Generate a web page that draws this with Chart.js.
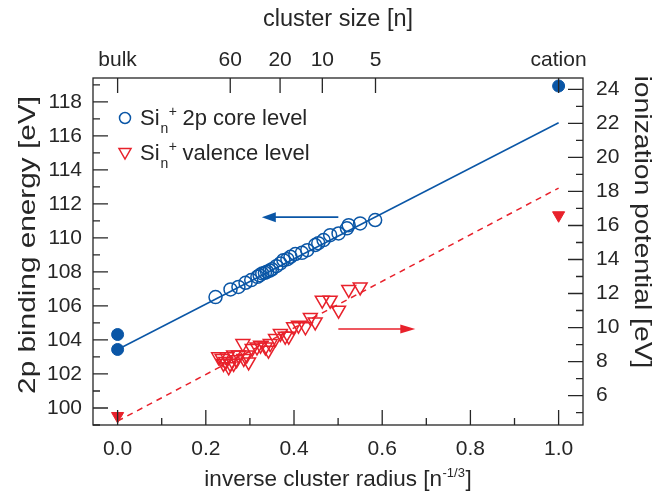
<!DOCTYPE html>
<html><head><meta charset="utf-8">
<script src="https://cdn.jsdelivr.net/npm/chart.js@4.4.0/dist/chart.umd.min.js"></script>
<style>html,body{margin:0;padding:0;background:#fff;}canvas{display:block;}</style>
</head><body>
<canvas id="c" width="658" height="493"></canvas>
<script>
// ---- data ----
const coreX = [0.222,0.256,0.274,0.290,0.303,0.317,0.322,0.328,0.334,0.339,0.345,0.350,0.360,0.369,0.376,0.385,0.392,0.403,0.418,0.430,0.448,0.455,0.467,0.482,0.501,0.520,0.524,0.550,0.584];
const coreY = [106.52,106.97,107.12,107.36,107.52,107.71,107.80,107.91,107.95,108.01,108.08,108.15,108.34,108.50,108.69,108.75,108.89,109.05,109.12,109.28,109.58,109.69,109.87,110.16,110.26,110.56,110.75,110.85,111.05];
const valX = [0.550,0.524,0.482,0.464,0.501,0.448,0.437,0.426,0.410,0.399,0.388,0.380,0.369,0.358,0.346,0.342,0.335,0.324,0.316,0.305,0.297,0.293,0.286,0.284,0.274,0.263,0.263,0.252,0.248,0.240,0.237,0.229,0.245,0.255,0.270];
const valY = [12.39,12.24,11.61,11.61,11.02,10.33,10.59,10.04,10.14,10.04,9.49,9.49,9.65,9.36,9.06,8.67,8.86,8.96,8.86,8.77,7.98,8.38,8.18,9.06,8.38,8.38,7.89,7.69,8.28,7.89,8.18,8.28,8.00,7.90,8.10];
const bulkCoreX = [0, 0];
const bulkCoreY = [104.32, 103.44];
const cationCoreX = [1.0];
const cationCoreY = [118.93];
const bulkValX = [0];
const bulkValY = [4.8];
const cationValX = [1.0];
const cationValY = [16.6];
const coreFitX = [0, 1.0];
const coreFitY = [103.44, 116.77];
const valFitX = [0, 1.0];
const valFitY = [4.5, 18.2];
const blueArrowX = [0.5005, 0.327];
const blueArrowY = [111.22, 111.22];
const redArrowX = [0.5005, 0.675];
const redArrowY = [9.91, 9.91];
const xTicks = [0.0, 0.2, 0.4, 0.6, 0.8, 1.0];
const xMinorTicks = [0.1, 0.3, 0.5, 0.7, 0.9];
const topTickValues = [0, 0.2554, 0.3684, 0.4642, 0.5848, 1.0];
const topTickLabels = ['bulk', '60', '20', '10', '5', 'cation'];
const leftTicks = [100,102,104,106,108,110,112,114,116,118];
const leftMinorTicks = [99,101,103,105,107,109,111,113,115,117,119];
const rightTicks = [6,8,10,12,14,16,18,20,22,24];
const rightMinorTicks = [5,7,9,11,13,15,17,19,21,23];

const BLUE = '#0a56a6';
const RED = '#e8212b';
const INK = '#262626';
const FONT = "'Liberation Sans', Arial, Helvetica, sans-serif";

const pts = (xs, ys) => xs.map((x, i) => ({x: x, y: ys[i]}));

const frameTicks = {
  id: 'frameTicks',
  afterDatasetsDraw(chart) {
    const ctx = chart.ctx, a = chart.chartArea, s = chart.scales;
    ctx.save();
    ctx.strokeStyle = INK; ctx.lineWidth = 1.3;
    ctx.strokeRect(a.left, a.top, a.right - a.left, a.bottom - a.top);
    const MAJ = 15, MIN = 7;
    ctx.beginPath();
    xTicks.forEach(v => { const x = s.x.getPixelForValue(v); ctx.moveTo(x, a.bottom); ctx.lineTo(x, a.bottom - MAJ); });
    xMinorTicks.forEach(v => { const x = s.x.getPixelForValue(v); ctx.moveTo(x, a.bottom); ctx.lineTo(x, a.bottom - MIN); });
    topTickValues.forEach(v => { const x = s.x2.getPixelForValue(v); ctx.moveTo(x, a.top); ctx.lineTo(x, a.top + MAJ); });
    leftTicks.forEach(v => { const y = s.y.getPixelForValue(v); ctx.moveTo(a.left, y); ctx.lineTo(a.left + MAJ, y); });
    leftMinorTicks.forEach(v => { const y = s.y.getPixelForValue(v); ctx.moveTo(a.left, y); ctx.lineTo(a.left + MIN, y); });
    rightTicks.forEach(v => { const y = s.y2.getPixelForValue(v); ctx.moveTo(a.right, y); ctx.lineTo(a.right - MAJ, y); });
    rightMinorTicks.forEach(v => { const y = s.y2.getPixelForValue(v); ctx.moveTo(a.right, y); ctx.lineTo(a.right - MIN, y); });
    ctx.stroke();

    // arrows
    function arrow(xs, ys, yScale, color, headLen, headHalf) {
      const x0 = s.x.getPixelForValue(xs[0]), x1 = s.x.getPixelForValue(xs[1]);
      const y0 = yScale.getPixelForValue(ys[0]), y1 = yScale.getPixelForValue(ys[1]);
      const dir = Math.sign(x1 - x0);
      ctx.strokeStyle = color; ctx.fillStyle = color; ctx.lineWidth = 1.6;
      ctx.beginPath(); ctx.moveTo(x0, y0); ctx.lineTo(x1 - dir * headLen * 0.8, y1); ctx.stroke();
      ctx.beginPath(); ctx.moveTo(x1, y1); ctx.lineTo(x1 - dir * headLen, y1 - headHalf); ctx.lineTo(x1 - dir * headLen, y1 + headHalf); ctx.closePath(); ctx.fill();
    }
    arrow(blueArrowX, blueArrowY, s.y, BLUE, 14, 5);
    arrow(redArrowX, redArrowY, s.y2, RED, 15, 4.5);

    // legend
    ctx.textBaseline = 'alphabetic'; ctx.textAlign = 'left';
    function entry(yBase, marker, rest) {
      ctx.fillStyle = INK;
      ctx.font = '22px ' + FONT;
      let x = 140;
      ctx.fillText('Si', x, yBase); x += ctx.measureText('Si').width + 1;
      ctx.font = '14px ' + FONT;
      ctx.fillText('n', x, yBase + 8);
      const nW = ctx.measureText('n').width;
      ctx.fillText('+', x + nW + 0.5, yBase - 9);
      x += nW + ctx.measureText('+').width + 6;
      ctx.font = '22px ' + FONT;
      ctx.fillText(rest, x, yBase);
      marker();
    }
    entry(125, () => { ctx.strokeStyle = BLUE; ctx.lineWidth = 1.5; ctx.beginPath(); ctx.arc(125, 118, 5.5, 0, Math.PI * 2); ctx.stroke(); }, '2p core level');
    entry(160, () => { ctx.strokeStyle = RED; ctx.lineWidth = 1.5; ctx.beginPath(); ctx.moveTo(119, 148.5); ctx.lineTo(131, 148.5); ctx.lineTo(125, 159); ctx.closePath(); ctx.stroke(); }, 'valence level');

    // bottom title with superscript
    ctx.fillStyle = INK;
    ctx.font = '22.5px ' + FONT;
    const t1 = 'inverse cluster radius [n', t3 = ']';
    const w1 = ctx.measureText(t1).width, w3 = ctx.measureText(t3).width;
    ctx.font = '13px ' + FONT;
    const t2 = '-1/3'; const w2 = ctx.measureText(t2).width;
    const total = w1 + w2 + w3 + 1;
    let bx = (a.left + a.right) / 2 - total / 2;
    const by = 486;
    ctx.font = '22.5px ' + FONT; ctx.fillText(t1, bx, by); bx += w1 + 0.5;
    ctx.font = '13px ' + FONT; ctx.fillText(t2, bx, by - 9); bx += w2 + 0.5;
    ctx.font = '22.5px ' + FONT; ctx.fillText(t3, bx, by);

    // vertical titles (stretched along text direction)
    function vtitle(text, cx, cy, rot, size, stretch) {
      ctx.save();
      ctx.translate(cx, cy); ctx.rotate(rot); ctx.scale(stretch, 1);
      ctx.font = size + 'px ' + FONT; ctx.textAlign = 'center'; ctx.textBaseline = 'middle';
      ctx.fillStyle = INK; ctx.fillText(text, 0, 0);
      ctx.restore();
    }
    vtitle('2p binding energy [eV]', 28, 245, -Math.PI / 2, 24, 1.24);
    vtitle('ionization potential [eV]', 642, 222, Math.PI / 2, 24, 1.18);
    ctx.restore();
  }
};

const tickFont = {family: FONT, size: 21};
const titleFont = {family: FONT, size: 23.5};

new Chart(document.getElementById('c'), {
  type: 'scatter',
  data: {
    datasets: [
      {data: pts(bulkCoreX, bulkCoreY), yAxisID: 'y', pointStyle: 'circle', pointRadius: 6, backgroundColor: BLUE, borderColor: BLUE, borderWidth: 1},
      {data: pts(cationCoreX, cationCoreY), yAxisID: 'y', pointStyle: 'circle', pointRadius: 6, backgroundColor: BLUE, borderColor: BLUE, borderWidth: 1},
      {data: pts(bulkValX, bulkValY), yAxisID: 'y2', pointStyle: 'triangle', rotation: 180, pointRadius: 7, backgroundColor: RED, borderColor: RED, borderWidth: 1},
      {data: pts(cationValX, cationValY), yAxisID: 'y2', pointStyle: 'triangle', rotation: 180, pointRadius: 7, backgroundColor: RED, borderColor: RED, borderWidth: 1},
      {data: pts(coreX, coreY), yAxisID: 'y', pointStyle: 'circle', pointRadius: 6.5, backgroundColor: 'rgba(0,0,0,0)', borderColor: BLUE, borderWidth: 1.5},
      {data: pts(valX, valY), yAxisID: 'y2', pointStyle: 'triangle', rotation: 180, pointRadius: 8, backgroundColor: 'rgba(0,0,0,0)', borderColor: RED, borderWidth: 1.5},
      {data: pts(coreFitX, coreFitY), yAxisID: 'y', showLine: true, pointRadius: 0, borderColor: BLUE, borderWidth: 1.5, fill: false},
      {data: pts(valFitX, valFitY), yAxisID: 'y2', showLine: true, pointRadius: 0, borderColor: RED, borderWidth: 1.5, borderDash: [6, 5], fill: false}
    ]
  },
  options: {
    responsive: false, animation: false, devicePixelRatio: 1,
    layout: {padding: 0},
    plugins: {legend: {display: false}, tooltip: {enabled: false}},
    elements: {point: {hoverRadius: 0}},
    scales: {
      x: {
        type: 'linear', position: 'bottom', min: -0.0558, max: 1.0553,
        grid: {display: false, drawTicks: false}, border: {display: false},
        afterBuildTicks: sc => { sc.ticks = xTicks.map(v => ({value: v})); },
        afterFit: sc => { sc.height = 68; },
        ticks: {font: tickFont, color: INK, padding: 12, maxRotation: 0, autoSkip: false, callback: v => Number(v).toFixed(1)}
      },
      x2: {
        type: 'linear', position: 'top', min: -0.0558, max: 1.0553,
        grid: {display: false, drawTicks: false}, border: {display: false},
        afterBuildTicks: sc => { sc.ticks = topTickValues.map(v => ({value: v})); },
        afterFit: sc => { sc.height = 78; },
        ticks: {font: tickFont, color: INK, padding: 5, maxRotation: 0, autoSkip: false, callback: (v, i) => topTickLabels[i]},
        title: {display: true, text: 'cluster size [n]', font: titleFont, color: INK, padding: {top: 5, bottom: 0}}
      },
      y: {
        type: 'linear', position: 'left', min: 99.0, max: 119.4,
        grid: {display: false, drawTicks: false}, border: {display: false},
        afterBuildTicks: sc => { sc.ticks = leftTicks.map(v => ({value: v})); },
        afterFit: sc => { sc.width = 93; },
        ticks: {font: tickFont, color: INK, padding: 11, autoSkip: false}
      },
      y2: {
        type: 'linear', position: 'right', min: 4.27, max: 24.67,
        grid: {display: false, drawTicks: false}, border: {display: false},
        afterBuildTicks: sc => { sc.ticks = rightTicks.map(v => ({value: v})); },
        afterFit: sc => { sc.width = 75; },
        ticks: {font: tickFont, color: INK, padding: 13, autoSkip: false}
      }
    }
  },
  plugins: [frameTicks]
});
</script>
</body></html>
